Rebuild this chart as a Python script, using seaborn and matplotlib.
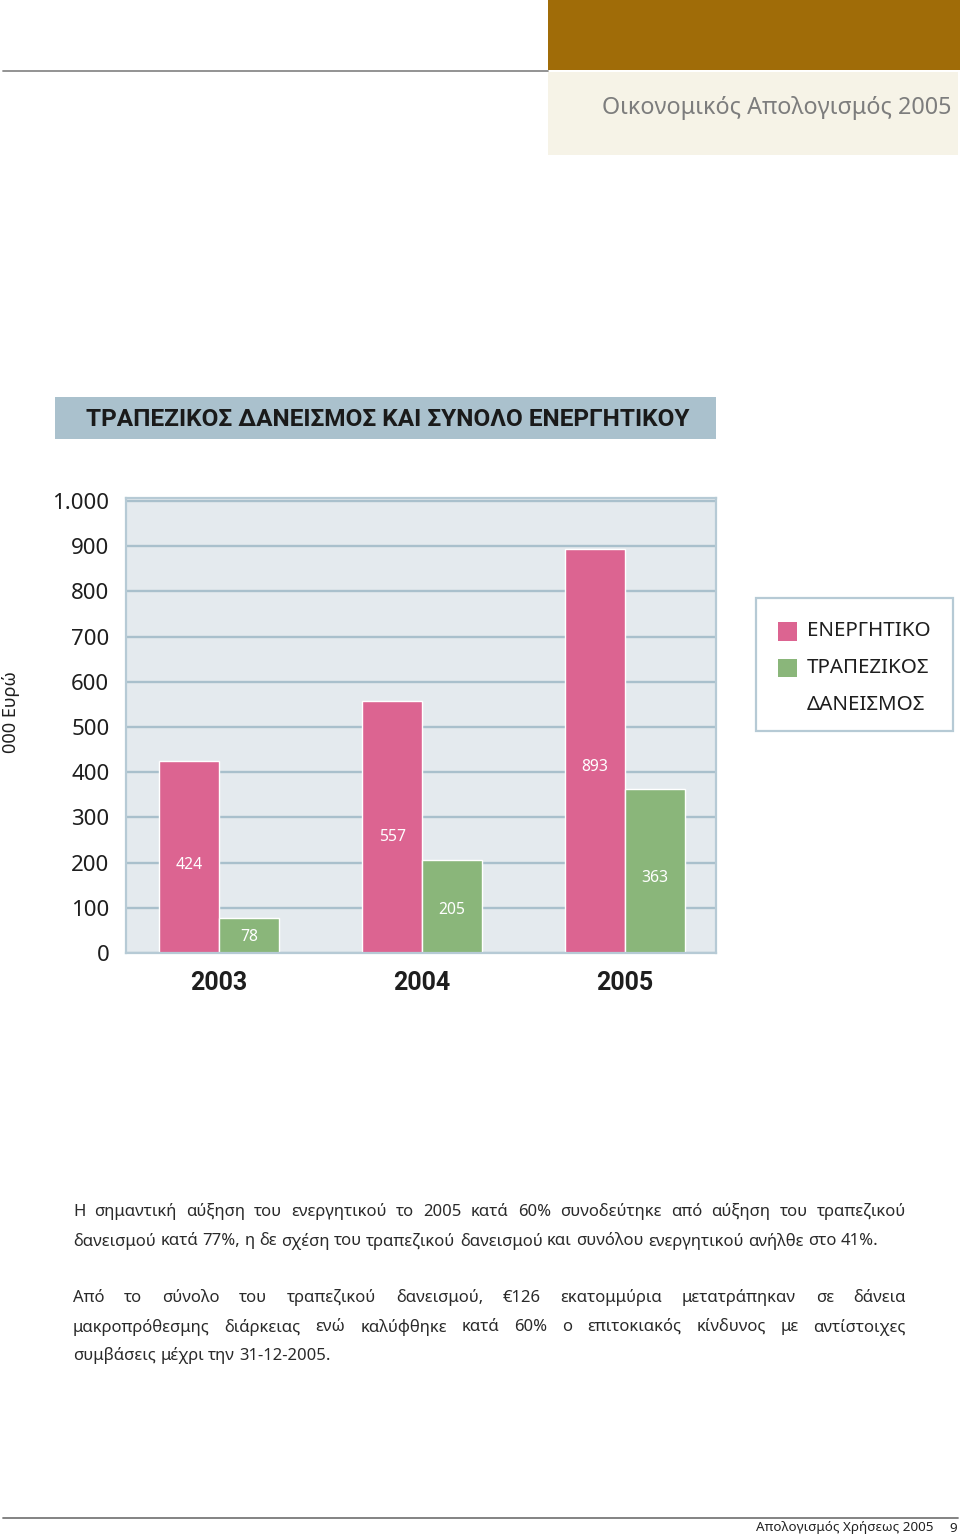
import matplotlib
matplotlib.use("Agg")
import matplotlib.pyplot as plt
from matplotlib.patches import Rectangle
from matplotlib.lines import Line2D
import seaborn as sns
import pandas as pd

# ---------------- data ----------------
years = ["2003", "2004", "2005"]
assets = [424, 557, 893]          # ΕΝΕΡΓΗΤΙΚΟ
loans = [78, 205, 363]            # ΤΡΑΠΕΖΙΚΟΣ ΔΑΝΕΙΣΜΟΣ
series_names = ["ΕΝΕΡΓΗΤΙΚΟ", "ΤΡΑΠΕΖΙΚΟΣ ΔΑΝΕΙΣΜΟΣ"]
legend_lines = [["ΕΝΕΡΓΗΤΙΚΟ"], ["ΤΡΑΠΕΖΙΚΟΣ", "ΔΑΝΕΙΣΜΟΣ"]]
ytick_values = [0, 100, 200, 300, 400, 500, 600, 700, 800, 900, 1000]
ytick_labels = ["0", "100", "200", "300", "400", "500", "600", "700", "800", "900", "1.000"]
y_label = "000 Ευρώ"
chart_title = "ΤΡΑΠΕΖΙΚΟΣ ΔΑΝΕΙΣΜΟΣ ΚΑΙ ΣΥΝΟΛΟ ΕΝΕΡΓΗΤΙΚΟΥ"
header_text = "Οικονομικός Απολογισμός 2005"
footer_text = "Απολογισμός Χρήσεως 2005"
page_number = "9"
paragraphs = [
    ["Η σημαντική αύξηση του ενεργητικού το 2005 κατά 60% συνοδεύτηκε από αύξηση του τραπεζικού",
     "δανεισμού κατά 77%, η δε σχέση του τραπεζικού δανεισμού και συνόλου ενεργητικού ανήλθε στο 41%."],
    ["Από το σύνολο του τραπεζικού δανεισμού, €126 εκατομμύρια μετατράπηκαν σε δάνεια",
     "μακροπρόθεσμης διάρκειας ενώ καλύφθηκε κατά 60% ο επιτοκιακός κίνδυνος με αντίστοιχες",
     "συμβάσεις μέχρι την 31-12-2005."],
]

df = pd.DataFrame({
    "year": years * 2,
    "value": assets + loans,
    "series": [series_names[0]] * 3 + [series_names[1]] * 3,
})

# ---------------- style ----------------
PINK = "#DC6491"
GREEN = "#8AB67A"
PLOT_BG = "#E4EAEE"
GRID = "#A9C0CC"
FRAME = "#B6CAD5"
TITLE_BG = "#AAC1CD"
GOLD = "#A06C08"
CREAM = "#F6F3E7"
TEXT = "#1E1E1E"
BOLD_FAMILY = ["Roboto", "DejaVu Sans"]

sns.set_theme(style="white")
plt.rcParams["font.family"] = ["Noto Sans", "DejaVu Sans"]

W, H = 960, 1538
fig = plt.figure(figsize=(W / 100, H / 100), dpi=100)
fig.patch.set_facecolor("white")


def fx(x):
    return x / W


def fy(y):
    return 1 - y / H


# ---------------- header ----------------
fig.add_artist(Rectangle((fx(548), fy(70)), fx(960) - fx(548), fy(0) - fy(70),
                         transform=fig.transFigure, facecolor=GOLD, edgecolor="none"))
fig.add_artist(Rectangle((fx(548), fy(155)), fx(958) - fx(548), fy(72) - fy(155),
                         transform=fig.transFigure, facecolor=CREAM, edgecolor="none"))
fig.add_artist(Line2D([fx(3), fx(548)], [fy(70.5), fy(70.5)], transform=fig.transFigure,
                      color="#8A8A8A", lw=1.3))
fig.text(fx(952), fy(108), header_text, ha="right", va="center", fontsize=16.8, color="#7D7D7D")

# ---------------- title bar ----------------
fig.add_artist(Rectangle((fx(55), fy(439)), fx(716) - fx(55), fy(397) - fy(439),
                         transform=fig.transFigure, facecolor=TITLE_BG, edgecolor="none"))
fig.text(fx(388), fy(420), chart_title, ha="center", va="center", fontsize=17.6,
         fontweight="bold", color="#1A1A1A", family=BOLD_FAMILY)

# ---------------- chart ----------------
ax = fig.add_axes([fx(126), fy(953), fx(716) - fx(126), fy(498) - fy(953)])
sns.barplot(data=df, x="year", y="value", hue="series", palette=[PINK, GREEN],
            width=0.59, gap=0, saturation=1, legend=False, ax=ax, errorbar=None)
ax.set_facecolor(PLOT_BG)
ax.set_xlim(-0.458, 2.448)
ax.set_ylim(0, 1006.6)
ax.set_yticks(ytick_values)
ax.set_yticklabels(ytick_labels)
ax.yaxis.grid(True, color=GRID, lw=1.7)
ax.set_axisbelow(True)
ax.tick_params(axis="y", length=6, width=1.4, color=GRID, pad=6, labelsize=16, labelcolor=TEXT)
ax.tick_params(axis="x", length=0, pad=13, labelcolor=TEXT)
for lab in ax.get_xticklabels():
    lab.set_fontweight("bold")
    lab.set_family(BOLD_FAMILY)
    lab.set_fontsize(18)
ax.set_xlabel("")
ax.set_ylabel("")
for s in ax.spines.values():
    s.set_color(FRAME)
    s.set_linewidth(1.6)

for container in ax.containers:
    for bar in container:
        h = bar.get_height()
        ax.text(bar.get_x() + bar.get_width() / 2, h * 0.46, f"{h:.0f}", ha="center",
                va="center", color="white", fontsize=11.3)

fig.text(fx(11), fy(712), y_label, rotation=90, ha="center", va="center", fontsize=13, color=TEXT)

# ---------------- legend ----------------
fig.add_artist(Rectangle((fx(756), fy(731)), fx(953) - fx(756), fy(598) - fy(731),
                         transform=fig.transFigure, facecolor="white", edgecolor=FRAME, lw=1.6))
leg_y = [631, 668]
for col, lines, y0 in zip([PINK, GREEN], legend_lines, leg_y):
    fig.add_artist(Rectangle((fx(778), fy(y0 + 9.5)), fx(797) - fx(778), fy(y0 - 9.5) - fy(y0 + 9.5),
                             transform=fig.transFigure, facecolor=col, edgecolor="none"))
    for i, line in enumerate(lines):
        fig.text(fx(807), fy(y0 + 37 * i), line, ha="left", va="center", fontsize=14.8, color=TEXT)

# ---------------- body text (justified) ----------------
renderer = fig.canvas.get_renderer()
BODY_SIZE = 12
body_kw = dict(fontsize=BODY_SIZE, color="#2A2A2A", va="center", ha="left")
probe = fig.text(0, 0, "a a", **body_kw)
w_aa = probe.get_window_extent(renderer).width
probe.set_text("aa")
space_w = w_aa - probe.get_window_extent(renderer).width
probe.remove()

X0, X1 = 73, 906
line_y = [[1212, 1241], [1298, 1327, 1356]]
for para, ys in zip(paragraphs, line_y):
    for li, (line, y) in enumerate(zip(para, ys)):
        words = line.split(" ")
        texts = [fig.text(0, fy(y), w, **body_kw) for w in words]
        widths = [t.get_window_extent(renderer).width for t in texts]
        last = li == len(para) - 1
        if last:
            gap = space_w
        else:
            gap = (X1 - X0 - sum(widths)) / (len(words) - 1)
        x = X0
        for t, w in zip(texts, widths):
            t.set_x(fx(x))
            x += w + gap

# ---------------- footer ----------------
fig.add_artist(Line2D([fx(3), fx(958)], [fy(1518), fy(1518)], transform=fig.transFigure,
                      color="#7A7A7A", lw=1.3))
fig.text(fx(934), fy(1528), footer_text, ha="right", va="center", fontsize=9.7, color="#222222")
fig.text(fx(957), fy(1528), page_number, ha="right", va="center", fontsize=9.7, color="#222222")

fig.savefig("out.png", dpi=100)
